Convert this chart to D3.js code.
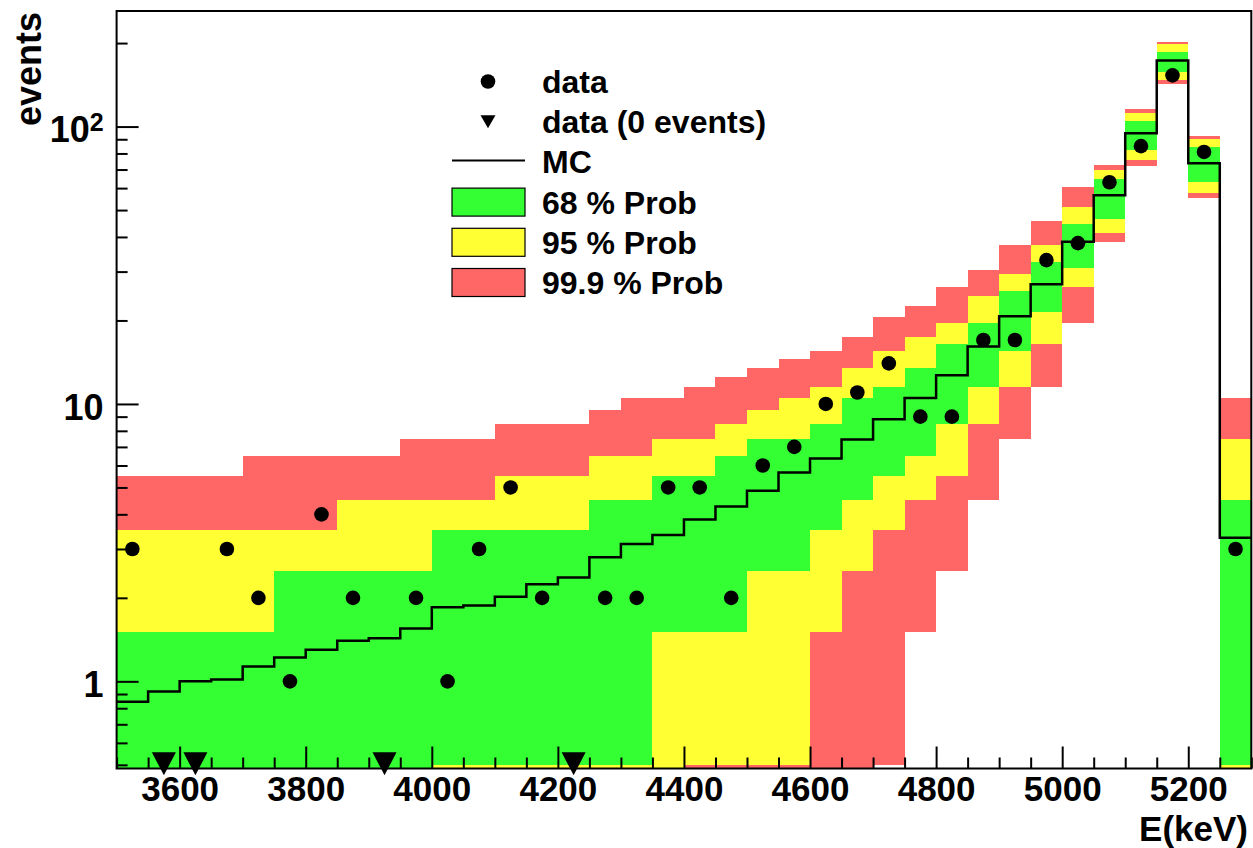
<!DOCTYPE html>
<html>
<head>
  <meta charset="utf-8">
  <script src="https://d3js.org/d3.v7.min.js"></script>
  <style>
    body { margin: 0; background: #fff; }
    svg text { font-family: "Liberation Sans", Arial, Helvetica, sans-serif; font-weight: bold; fill: #000; }
  </style>
</head>
<body>
<div id="chartContainer"></div>
<script type="text/javascript">
"use strict";

// bins of 50 keV, left edges
var binStart = [3500, 3550, 3600, 3650, 3700, 3750, 3800, 3850, 3900, 3950,
                4000, 4050, 4100, 4150, 4200, 4250, 4300, 4350, 4400, 4450,
                4500, 4550, 4600, 4650, 4700, 4750, 4800, 4850, 4900, 4950,
                5000, 5050, 5100, 5150, 5200, 5250];
var binWidth = 50;

// measured counts per bin (0 -> drawn as a triangle)
var dataCounts = [3, 0, 0, 3, 2, 1, 4, 2, 0, 2,
                  1, 3, 5, 2, 0, 2, 2, 5, 5, 2,
                  6, 7, 10, 11, 14, 9, 9, 17, 17, 33,
                  38, 63, 85, 153, 81, 3];

// MC expectation
var mcExpected = [0.844, 0.92, 1.0, 1.016, 1.13, 1.22, 1.30, 1.40, 1.43, 1.55,
                  1.85, 1.875, 2.02, 2.24, 2.37, 2.80, 3.13, 3.37, 3.83, 4.27,
                  4.86, 5.66, 6.36, 7.44, 8.8, 10.5, 12.7, 16.1, 20.7, 27.0,
                  38.4, 56.6, 94.6, 173, 73.7, 3.29];

// probability bands (0 means below the axis)
var prob68Lo = [0, 0, 0, 0, 0, 0, 0, 0, 0, 0,
                0.5, 0.5, 0.5, 0.5, 0.5, 0.5, 0.5, 1.5, 1.5, 1.5,
                2.5, 2.5, 3.5, 4.5, 5.5, 6.5, 8.5, 11.5, 15.5, 21.5,
                31, 46.5, 82.3, 157.8, 63.2, 0.5];
var prob68Hi = [1.5, 1.5, 1.5, 1.5, 1.5, 2.5, 2.5, 2.5, 2.5, 2.5,
                3.5, 3.5, 3.5, 3.5, 3.5, 4.5, 4.5, 5.5, 5.5, 6.5,
                7.5, 7.5, 8.5, 10.5, 11.5, 13.5, 16.5, 19.5, 25.5, 32.5,
                44.5, 64.5, 104.5, 186.4, 84.2, 4.5];
var prob95Lo = [0, 0, 0, 0, 0, 0, 0, 0, 0, 0,
                0, 0, 0, 0, 0, 0, 0, 0, 0.5, 0.5,
                0.5, 0.5, 1.5, 2.5, 3.5, 4.5, 5.5, 8.5, 11.5, 16.5,
                26.5, 41.5, 75.7, 147.3, 57.7, 0];
var prob95Hi = [3.5, 3.5, 3.5, 3.5, 3.5, 3.5, 3.5, 4.5, 4.5, 4.5,
                4.5, 4.5, 5.5, 5.5, 5.5, 6.5, 6.5, 7.5, 7.5, 8.5,
                9.5, 10.5, 11.5, 13.5, 15.5, 17.5, 19.5, 24.5, 29.5, 37.5,
                51.5, 69.5, 111.5, 198.7, 90, 7.5];
var prob999Lo = [0, 0, 0, 0, 0, 0, 0, 0, 0, 0,
                 0, 0, 0, 0, 0, 0, 0, 0, 0, 0,
                 0, 0, 0, 0, 0.5, 1.5, 2.5, 4.5, 7.5, 11.5,
                 19.5, 38.5, 72.1, 142.1, 55.1, 0];
var prob999Hi = [5.5, 5.5, 5.5, 5.5, 6.5, 6.5, 6.5, 6.5, 6.5, 7.5,
                 7.5, 7.5, 8.5, 8.5, 8.5, 9.5, 10.5, 10.5, 11.5, 12.5,
                 13.5, 14.5, 15.5, 17.5, 20.5, 22.5, 26.5, 30.5, 37.5, 45.5,
                 60.5, 72.5, 115.5, 202.6, 92.5, 10.5];

// axis ticks
var xTickLabels = [3600, 3800, 4000, 4200, 4400, 4600, 4800, 5000, 5200];
var yTickLabels = [1, 10, 100];
var yMinorTicks = [0.5, 0.6, 0.7, 0.8, 0.9, 2, 3, 4, 5, 6, 7, 8, 9,
                   20, 30, 40, 50, 60, 70, 80, 90, 200];

var legendLabels = ["data", "data (0 events)", "MC", "68 % Prob", "95 % Prob", "99.9 % Prob"];

var colGreen = "#33ff33", colYellow = "#ffff33", colRed = "#ff6666";

var W = 1253, H = 848;
var frame = { left: 116.6, right: 1251.3, top: 11, bottom: 768.5 };
var yMin = 0.485, yMax = 261;

var svg = d3.select("#chartContainer").append("svg")
    .attr("width", W)
    .attr("height", H);

var x = d3.scaleLinear().domain([3500, 5300]).range([frame.left, frame.right]);
var y = d3.scaleLog().domain([yMin, yMax]).range([frame.bottom, frame.top]);

// one band = one rect per bin, lower edge cut at the axis minimum
function drawBand(lo, hi, colour) {
    svg.append("g").selectAll("rect")
        .data(binStart)
        .enter()
        .append("rect")
        .attr("x", function (d) { return x(d); })
        .attr("width", function (d) { return x(d + binWidth) - x(d); })
        .attr("y", function (d, i) { return y(Math.min(hi[i], yMax)); })
        .attr("height", function (d, i) {
            return y(Math.max(lo[i], yMin)) - y(Math.min(hi[i], yMax));
        })
        .attr("fill", colour)
        .attr("shape-rendering", "crispEdges");
}
drawBand(prob999Lo, prob999Hi, colRed);
drawBand(prob95Lo, prob95Hi, colYellow);
drawBand(prob68Lo, prob68Hi, colGreen);

// MC histogram as a step line
var steps = [];
binStart.forEach(function (d, i) {
    steps.push([x(d), y(mcExpected[i])]);
    steps.push([x(d + binWidth), y(mcExpected[i])]);
});
svg.append("path")
    .attr("d", d3.line()(steps))
    .attr("fill", "none")
    .attr("stroke", "#000")
    .attr("stroke-width", 2.5);

// down-pointing triangle, centred on its box
function triangle(w, h) {
    var p = d3.path();
    p.moveTo(-w / 2, -h / 2);
    p.lineTo(w / 2, -h / 2);
    p.lineTo(0, h / 2);
    p.closePath();
    return p.toString();
}

var points = binStart.map(function (d, i) { return { e: d + binWidth / 2, n: dataCounts[i] }; });

svg.append("g").selectAll("circle")
    .data(points.filter(function (p) { return p.n > 0; }))
    .enter()
    .append("circle")
    .attr("cx", function (p) { return x(p.e); })
    .attr("cy", function (p) { return y(p.n); })
    .attr("r", 7.3)
    .attr("fill", "#000");

svg.append("g").selectAll("path")
    .data(points.filter(function (p) { return p.n === 0; }))
    .enter()
    .append("path")
    .attr("d", triangle(24, 23))
    .attr("transform", function (p) { return "translate(" + x(p.e) + "," + (y(0.5) - 1) + ")"; })
    .attr("fill", "#000");

// axes, ticks point into the frame
var xMinor = d3.range(3500, 5301, 50).filter(function (v) { return xTickLabels.indexOf(v) < 0; });

svg.append("g")
    .attr("transform", "translate(0," + frame.bottom + ")")
    .call(d3.axisBottom(x).tickValues(xMinor).tickSize(-11).tickFormat(""))
    .call(function (g) { g.select(".domain").remove(); });

var xAxis = svg.append("g")
    .attr("transform", "translate(0," + frame.bottom + ")")
    .call(d3.axisBottom(x).tickValues(xTickLabels).tickSize(-22).tickPadding(8).tickFormat(d3.format("d")))
    .call(function (g) { g.select(".domain").remove(); });
xAxis.selectAll("text").style("font-size", "35px");

svg.append("g")
    .attr("transform", "translate(" + frame.left + ",0)")
    .call(d3.axisLeft(y).tickValues(yMinorTicks).tickSize(-11).tickFormat(""))
    .call(function (g) { g.select(".domain").remove(); });

var yAxis = svg.append("g")
    .attr("transform", "translate(" + frame.left + ",0)")
    .call(d3.axisLeft(y).tickValues(yTickLabels).tickSize(-22).tickPadding(13).tickFormat(function (v) { return v === 100 ? "" : String(v); }))
    .call(function (g) { g.select(".domain").remove(); });
yAxis.selectAll("text").style("font-size", "36px").attr("dy", "0.42em");

// 10^2 label written with a raised exponent
var sup = yAxis.selectAll(".tick").filter(function (v) { return v === 100; }).select("text");
sup.append("tspan").text("10");
sup.append("tspan").text("2").attr("dy", "-0.45em").style("font-size", "25px");

svg.selectAll(".tick line").attr("stroke", "#000").attr("stroke-width", 2);

// frame
svg.append("rect")
    .attr("x", frame.left)
    .attr("y", frame.top)
    .attr("width", frame.right - frame.left)
    .attr("height", frame.bottom - frame.top)
    .attr("fill", "none")
    .attr("stroke", "#000")
    .attr("stroke-width", 2);

// axis titles
svg.append("text")
    .attr("x", 1248)
    .attr("y", 840.5)
    .attr("text-anchor", "end")
    .style("font-size", "35px")
    .text("E(keV)");

svg.append("text")
    .attr("transform", "translate(41,12) rotate(-90)")
    .attr("text-anchor", "end")
    .style("font-size", "36px")
    .text("events");

// legend
var legend = svg.append("g").attr("transform", "translate(452,81.5)");
var rowH = 40.2;
legend.selectAll("text")
    .data(legendLabels)
    .enter()
    .append("text")
    .attr("x", 90)
    .attr("y", function (d, i) { return i * rowH + 11.5; })
    .style("font-size", "32px")
    .text(function (d) { return d; });

legend.append("circle").attr("cx", 36).attr("cy", 0).attr("r", 7.3).attr("fill", "#000");
legend.append("path").attr("d", triangle(15, 13)).attr("transform", "translate(36," + rowH + ")").attr("fill", "#000");
legend.append("line")
    .attr("x1", 0).attr("x2", 73)
    .attr("y1", 2 * rowH - 1.5).attr("y2", 2 * rowH - 1.5)
    .attr("stroke", "#000").attr("stroke-width", 2);
legend.selectAll("rect")
    .data([colGreen, colYellow, colRed])
    .enter()
    .append("rect")
    .attr("x", 0)
    .attr("y", function (d, i) { return (i + 3) * rowH - 14; })
    .attr("width", 73)
    .attr("height", 28)
    .attr("fill", function (d) { return d; })
    .attr("stroke", "#000")
    .attr("stroke-width", 1.2);
</script>
</body>
</html>
